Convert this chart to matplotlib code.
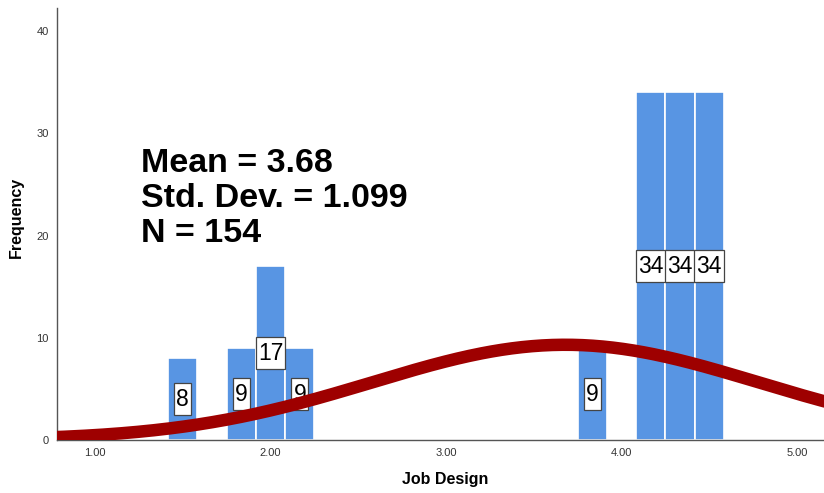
import numpy as np
import matplotlib.pyplot as plt
from matplotlib.path import Path

plt.rcParams['font.family'] = ['Liberation Sans', 'DejaVu Sans']

# histogram bins (centres) and their counts
bin_centers = [1.5, 1.8333, 2.0, 2.1667, 3.8333, 4.1667, 4.3333, 4.5]
counts = [8, 9, 17, 9, 9, 34, 34, 34]
bin_width = 1 / 6

# summary statistics shown on the chart
mean, std_dev, n_total = 3.68, 1.099, 154

x_ticks = [1.0, 2.0, 3.0, 4.0, 5.0]
y_ticks = [0, 10, 20, 30, 40]

bar_color = '#5895e3'
curve_color = '#9e0000'


def label_box(x0, y0, width, height, mutation_size):
    # narrow sides, taller top/bottom like the SPSS data labels
    px, py = 0.09 * mutation_size, 0.2 * mutation_size
    verts = [(x0 - px, y0 - py), (x0 + width + px, y0 - py),
             (x0 + width + px, y0 + height + py), (x0 - px, y0 + height + py),
             (x0 - px, y0 - py)]
    codes = [Path.MOVETO, Path.LINETO, Path.LINETO, Path.LINETO, Path.CLOSEPOLY]
    return Path(verts, codes)


fig = plt.figure(figsize=(8.24, 4.93), dpi=100)
ax = fig.add_axes([0.0692, 0.1075, 0.9308, 0.876])

ax.bar(bin_centers, counts, width=bin_width, color=bar_color,
       edgecolor='white', linewidth=1.2, zorder=2)

# count labels at half bar height
for xc, c in zip(bin_centers, counts):
    ax.text(xc, c / 2, str(c), ha='center', va='center', fontsize=16.5,
            color='black', zorder=3,
            bbox=dict(boxstyle=label_box, facecolor='white',
                      edgecolor='#444444', linewidth=0.9))

# normal curve scaled to the histogram
xs = np.linspace(0.7, 5.3, 400)
pdf = np.exp(-0.5 * ((xs - mean) / std_dev) ** 2) / (std_dev * np.sqrt(2 * np.pi))
ax.plot(xs, n_total * bin_width * pdf, color=curve_color, linewidth=9,
        solid_capstyle='round', zorder=4)

ax.text(1.26, 23.6, f'Mean = {mean:.2f}\nStd. Dev. = {std_dev:.3f}\nN = {n_total}',
        fontsize=24.5, fontweight='bold', ha='left', va='center',
        linespacing=1.17, zorder=5)

ax.set_xlim(0.783, 5.154)
ax.set_ylim(0, 42.25)
ax.set_xticks(x_ticks)
ax.set_xticklabels([f'{t:.2f}' for t in x_ticks])
ax.set_yticks(y_ticks)
ax.tick_params(length=0, labelsize=8, colors='#333333', pad=6)
for side in ['top', 'right']:
    ax.spines[side].set_visible(False)
for side in ['left', 'bottom']:
    ax.spines[side].set_color('#555555')
    ax.spines[side].set_linewidth(1)

ax.set_xlabel('Job Design', fontsize=11.5, fontweight='bold')
ax.set_ylabel('Frequency', fontsize=11.5, fontweight='bold')
ax.xaxis.set_label_coords(0.506, -0.074)
ax.yaxis.set_label_coords(-0.043, 0.515)

fig.savefig('out.png', dpi=100)
